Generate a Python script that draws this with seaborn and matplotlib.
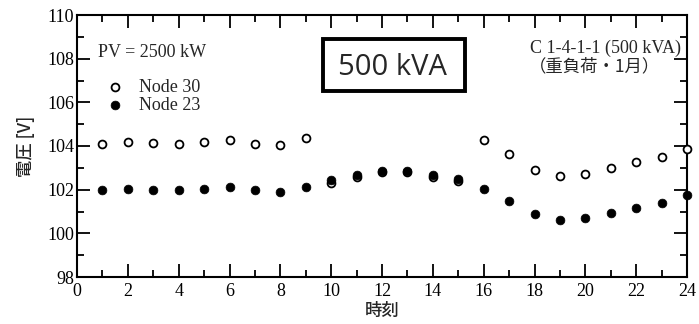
import matplotlib
matplotlib.use("Agg")
import matplotlib.pyplot as plt
from matplotlib.ticker import MultipleLocator
from matplotlib.patches import Rectangle
import seaborn as sns
import pandas as pd

sns.set_style("ticks")
plt.rcParams['font.family'] = ['Liberation Serif', 'Noto Sans CJK JP']

# hourly voltage data
HOURS = list(range(1, 25))
node30 = [104.1, 104.17, 104.12, 104.1, 104.17, 104.27, 104.1, 104.03, 104.35,
          102.3, 102.6, 102.8, 102.8, 102.6, 102.38, 104.27, 103.63, 102.9,
          102.62, 102.74, 102.98, 103.25, 103.5, 103.87]
node23 = [101.98, 102.03, 101.98, 101.98, 102.05, 102.1, 102.0, 101.9, 102.1,
          102.42, 102.66, 102.84, 102.84, 102.66, 102.5, 102.04, 101.49, 100.87,
          100.6, 100.72, 100.93, 101.18, 101.41, 101.76]

df = pd.DataFrame({'hour': HOURS, 'n30': node30, 'n23': node23})

fig = plt.figure(figsize=(6.99, 3.24), dpi=100)
ax = fig.add_axes([77/699, 1 - 277/324, 610/699, 262/324])

sns.scatterplot(x='hour', y='n30', data=df, ax=ax, s=32, facecolor='white',
                edgecolor='black', linewidth=1.3, label='Node 30', zorder=3,
                clip_on=False)
sns.scatterplot(x='hour', y='n23', data=df, ax=ax, s=40, color='black',
                edgecolor='black', linewidth=0.5, label='Node 23', zorder=4,
                clip_on=False)

ax.set_xlim(0, 24)
ax.set_ylim(98, 110)
ax.xaxis.set_major_locator(MultipleLocator(2))
ax.xaxis.set_minor_locator(MultipleLocator(1))
ax.yaxis.set_major_locator(MultipleLocator(2))
ax.yaxis.set_minor_locator(MultipleLocator(1))
ax.tick_params(which='both', direction='in', top=True, right=True, width=1.3,
               labelsize=13, colors='black', pad=2)
ax.tick_params(axis='x', which='both', pad=4)
ax.tick_params(which='major', length=9.5)
ax.tick_params(which='minor', length=5)
for sp in ax.spines.values():
    sp.set_linewidth(1.5)
    sp.set_color('black')

ax.set_xlabel('時刻', fontsize=12.5, family=['Noto Sans CJK JP'], labelpad=2,
              weight='medium')
ax.set_ylabel('電圧 [V]', fontsize=12.5, family=['Noto Sans CJK JP'], labelpad=9,
              weight='medium')

ax.legend(loc='upper left', bbox_to_anchor=(0.048, 0.756), frameon=False,
          fontsize=13, handletextpad=0.8, labelspacing=0.05, borderpad=0,
          borderaxespad=0, handlelength=1.0)

ax.text(0.034, 0.855, 'PV = 2500 kW', transform=ax.transAxes, fontsize=13,
        va='center', ha='left')
ax.text(0.99, 0.874, 'C 1-4-1-1 (500 kVA)', transform=ax.transAxes, fontsize=13,
        va='center', ha='right')
ax.text(0.849, 0.805, '（重負荷・1月）', transform=ax.transAxes, fontsize=12.5,
        va='center', ha='center', family=['Noto Sans CJK JP'])

# framed "500 kVA" label
ax.add_patch(Rectangle((0.403, 0.710), 0.233, 0.198, transform=ax.transAxes,
                       facecolor='white', edgecolor='black', linewidth=2.8,
                       zorder=5))
ax.text(0.517, 0.800, '500 kVA', transform=ax.transAxes, fontsize=21,
        va='center', ha='center', family=['Open Sans'], zorder=6)

fig.savefig('out.png', dpi=100)
